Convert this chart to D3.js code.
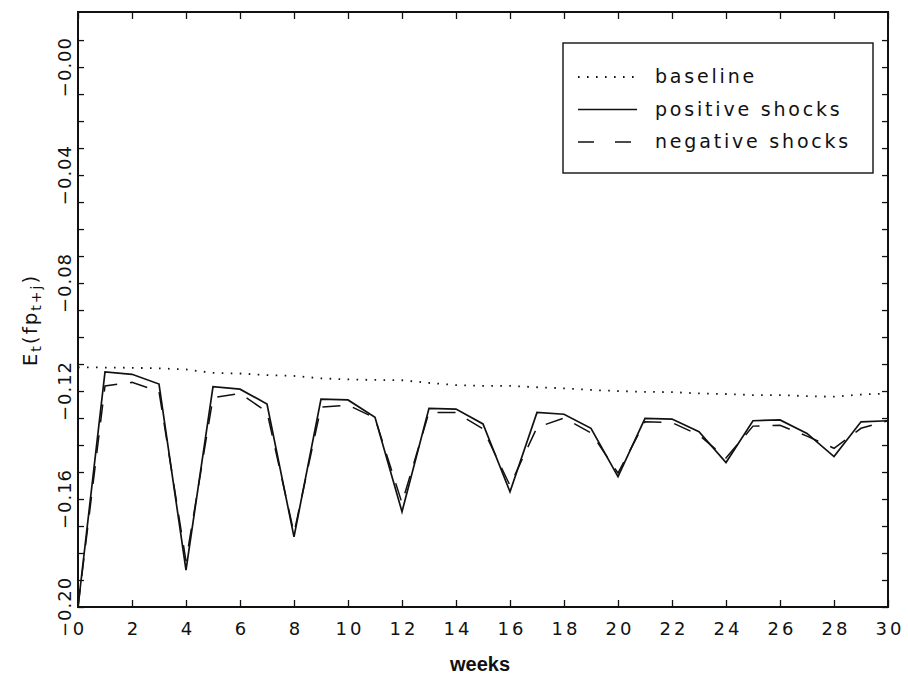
<!DOCTYPE html>
<html>
<head>
<meta charset="utf-8">
<script src="https://cdn.jsdelivr.net/npm/d3@7"></script>
<style>
    body { margin: 0; background: #fff; }
    #chart { width: 908px; height: 677px; }
    text { font-family: "DejaVu Sans", sans-serif; fill: #111; }
</style>
</head>
<body>
<div id="chart"></div>
<script>

// weeks after the shock
let weeks = [0, 1, 2, 3, 4, 5, 6, 7, 8, 9, 10, 11, 12, 13, 14, 15, 16, 17, 18, 19, 20, 21, 22, 23, 24, 25, 26, 27, 28, 29, 30];

let baseline = [-0.1112, -0.1113, -0.1114, -0.1116, -0.1120, -0.1133, -0.1135, -0.1141, -0.1144, -0.1153, -0.1157,
    -0.1159, -0.1160, -0.1170, -0.1178, -0.1181, -0.1181, -0.1186, -0.1190, -0.1196, -0.1200,
    -0.1203, -0.1204, -0.1209, -0.1211, -0.1215, -0.1215, -0.1219, -0.1221, -0.1213, -0.1209];

let positiveShocks = [-0.2000, -0.1129, -0.1138, -0.1174, -0.1863, -0.1184, -0.1193, -0.1248, -0.1740, -0.1230, -0.1233,
    -0.1297, -0.1647, -0.1264, -0.1267, -0.1322, -0.1573, -0.1279, -0.1286, -0.1338, -0.1517,
    -0.1301, -0.1304, -0.1351, -0.1465, -0.1310, -0.1307, -0.1357, -0.1443, -0.1314, -0.1310];

let negativeShocks = [-0.2000, -0.1181, -0.1168, -0.1202, -0.1830, -0.1225, -0.1209, -0.1277, -0.1726, -0.1260, -0.1252,
    -0.1300, -0.1615, -0.1279, -0.1280, -0.1340, -0.1550, -0.1335, -0.1300, -0.1355, -0.1504,
    -0.1314, -0.1317, -0.1363, -0.1448, -0.1330, -0.1327, -0.1367, -0.1412, -0.1338, -0.1310];

let xTicks = [0, 2, 4, 6, 8, 10, 12, 14, 16, 18, 20, 22, 24, 26, 28, 30];
let yMinorTicks = [0.01, 0.00, -0.01, -0.02, -0.03, -0.04, -0.05, -0.06, -0.07, -0.08, -0.09, -0.10,
    -0.11, -0.12, -0.13, -0.14, -0.15, -0.16, -0.17, -0.18, -0.19, -0.20];
let yLabelValues = [0.00, -0.04, -0.08, -0.12, -0.16, -0.20];
let yLabels = ["\u22120.00", "\u22120.04", "\u22120.08", "\u22120.12", "\u22120.16", "\u22120.20"];

let seriesNames = ["baseline", "positive shocks", "negative shocks"];

class ShockVis {
    constructor(parentElement) {
        this.parentElement = parentElement;
        this.initVis();
    }

    initVis() {
        let vis = this;

        vis.margin = {top: 12, right: 20, bottom: 70, left: 78};
        vis.width = 908 - vis.margin.left - vis.margin.right;
        vis.height = 677 - vis.margin.top - vis.margin.bottom;

        vis.svg = d3.select("#" + vis.parentElement)
            .append("svg")
            .attr("width", 908)
            .attr("height", 677)
            .append("g")
            .attr("transform", "translate(" + vis.margin.left + "," + vis.margin.top + ")");

        vis.x = d3.scaleLinear().domain([0, 30]).range([0, vis.width]);
        vis.y = d3.scaleLinear().domain([-0.20, 0.0204]).range([vis.height, 0]);

        // series lines
        vis.styles = [
            {values: baseline, dash: "1.6,7.4", width: 1.8},
            {values: positiveShocks, dash: null, width: 1.7},
            {values: negativeShocks, dash: "18,13", width: 1.5}
        ];

        let line = d3.line()
            .x((d, i) => vis.x(weeks[i]))
            .y(d => vis.y(d));

        vis.svg.selectAll(".series")
            .data(vis.styles)
            .enter()
            .append("path")
            .attr("class", "series")
            .attr("d", d => line(d.values))
            .attr("fill", "none")
            .attr("stroke", "#111")
            .attr("stroke-width", d => d.width)
            .attr("stroke-dasharray", d => d.dash);

        // axes, ticks pointing inwards
        let bottom = vis.svg.append("g")
            .attr("transform", "translate(0," + vis.height + ")")
            .call(d3.axisBottom(vis.x).tickValues(xTicks).tickSize(-7).tickPadding(15).tickFormat(d3.format("d")));
        bottom.selectAll("text")
            .style("font-size", "18px")
            .style("letter-spacing", "3px")
            .attr("dx", "1.5px");

        vis.svg.append("g")
            .call(d3.axisTop(vis.x).tickValues(xTicks).tickSize(-7).tickFormat(""));

        vis.svg.append("g")
            .call(d3.axisLeft(vis.y).tickValues(yMinorTicks).tickSize(-6).tickFormat(""));

        vis.svg.append("g")
            .attr("transform", "translate(" + vis.width + ",0)")
            .call(d3.axisRight(vis.y).tickValues(yMinorTicks).tickSize(-6).tickFormat(""));

        vis.svg.selectAll(".domain").remove();
        vis.svg.selectAll(".tick line").attr("stroke", "#111").attr("stroke-width", 1.3);

        // rotated y tick labels
        vis.svg.selectAll(".y-label")
            .data(yLabelValues)
            .enter()
            .append("text")
            .attr("class", "y-label")
            .attr("transform", d => "translate(-7," + vis.y(d) + ") rotate(-90)")
            .style("text-anchor", "middle")
            .style("font-size", "18px")
            .style("letter-spacing", "1px")
            .text((d, i) => yLabels[i]);

        // frame
        vis.svg.append("rect")
            .attr("x", 0)
            .attr("y", 0)
            .attr("width", vis.width)
            .attr("height", vis.height)
            .attr("fill", "none")
            .attr("stroke", "#111")
            .attr("stroke-width", 2);

        // axis titles
        vis.svg.append("text")
            .attr("x", vis.width / 2 - 3)
            .attr("y", vis.height + 64)
            .style("text-anchor", "middle")
            .style("font-family", "'Liberation Sans', sans-serif")
            .style("font-weight", "bold")
            .style("font-size", "20px")
            .text("weeks");

        let yTitle = vis.svg.append("text")
            .attr("transform", "translate(" + (37 - vis.margin.left) + "," + 308 + ") rotate(-90)")
            .style("text-anchor", "middle")
            .style("font-size", "20px")
            .style("letter-spacing", "2px");
        yTitle.append("tspan").text("E");
        yTitle.append("tspan").attr("dy", 4).style("font-size", "14px").text("t");
        yTitle.append("tspan").attr("dy", -4).text("(fp");
        yTitle.append("tspan").attr("dy", 4).style("font-size", "14px").text("t+j");
        yTitle.append("tspan").attr("dy", -4).text(")");

        // legend
        let lx = 563 - vis.margin.left, ly = 43 - vis.margin.top;
        vis.svg.append("rect")
            .attr("x", lx)
            .attr("y", ly)
            .attr("width", 310)
            .attr("height", 130)
            .attr("fill", "#fff")
            .attr("stroke", "#111")
            .attr("stroke-width", 1.4);

        let legend = vis.svg.selectAll(".legend")
            .data(seriesNames)
            .enter()
            .append("g")
            .attr("class", "legend")
            .attr("transform", (d, i) => "translate(" + lx + "," + (ly + 34 + i * 32.5) + ")");

        legend.append("line")
            .attr("x1", 15)
            .attr("x2", 74)
            .attr("stroke", "#111")
            .attr("stroke-width", (d, i) => vis.styles[i].width)
            .attr("stroke-dasharray", (d, i) => i === 2 ? "16,21" : vis.styles[i].dash);

        legend.append("text")
            .attr("x", 92)
            .attr("y", 6)
            .style("font-size", "19px")
            .style("letter-spacing", "2.8px")
            .text(d => d);
    }
}

new ShockVis("chart");
</script>
</body>
</html>
